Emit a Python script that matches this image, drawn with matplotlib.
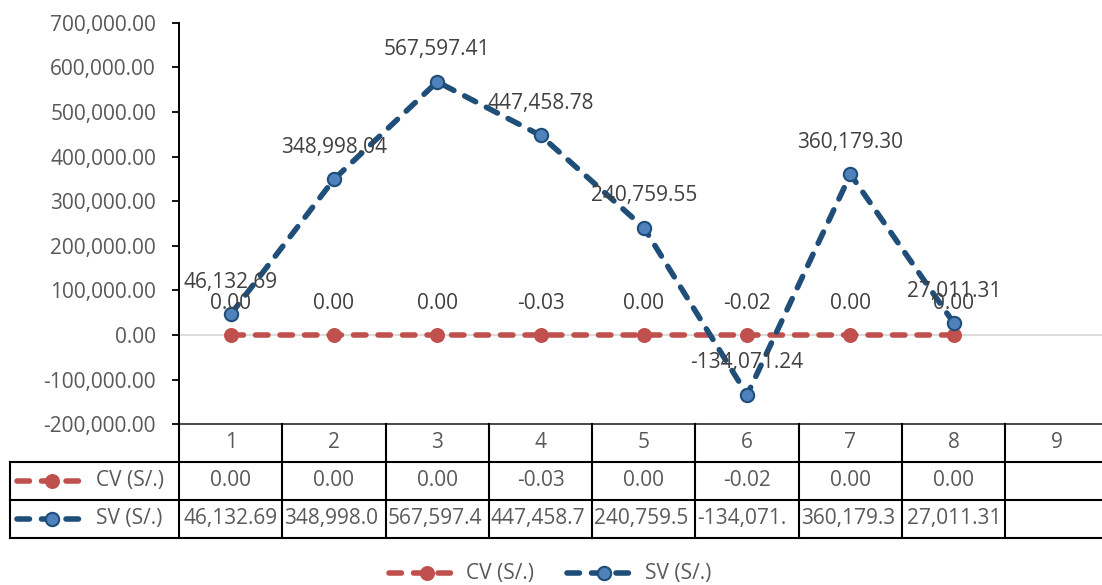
import matplotlib
matplotlib.use("Agg")
import matplotlib.pyplot as plt
from matplotlib.lines import Line2D
from matplotlib import transforms as mtransforms
from matplotlib.ticker import FuncFormatter, MultipleLocator

plt.rcParams["font.family"] = ["Open Sans", "DejaVu Sans"]

# ---- data -------------------------------------------------------------
periods = [1, 2, 3, 4, 5, 6, 7, 8, 9]
cv_values = [0.00, 0.00, 0.00, -0.03, 0.00, -0.02, 0.00, 0.00]
sv_values = [46132.69, 348998.04, 567597.41, 447458.78, 240759.55,
             -134071.24, 360179.30, 27011.31]
series_names = ["CV (S/.)", "SV (S/.)"]
y_min, y_max, y_step = -200000, 700000, 100000

# ---- style ------------------------------------------------------------
RED = "#C0504D"
BLUE = "#1F4E79"
BLUE_FACE = "#4F81BD"
TXT = "#595959"
LBL = "#404040"
FS = 15
LW = 4
DASH = (0, (2.24, 2.17))

W, H = 1102, 585
fig = plt.figure(figsize=(W / 100, H / 100), dpi=100)
fig.patch.set_facecolor("white")

def fx(p):
    return p / W

def fy(p):
    return 1 - p / H

# plot area (pixels): left 179, top 22.7, bottom 424.3, cell width 103.3
ax_left, ax_top, ax_bot, cell = 179.0, 22.7, 424.3, 103.3
ax = fig.add_axes([fx(ax_left), fy(ax_bot), fx(cell * len(periods)),
                   (ax_bot - ax_top) / H])
ax.set_xlim(0.5, len(periods) + 0.5)
ax.set_ylim(y_min, y_max)
ax.set_facecolor("none")

for s in ("top", "right", "bottom"):
    ax.spines[s].set_visible(False)
ax.spines["left"].set_color("black")
ax.spines["left"].set_linewidth(1.4)
ax.yaxis.set_major_locator(MultipleLocator(y_step))
ax.yaxis.set_major_formatter(FuncFormatter(lambda v, p: f"{v:,.2f}"))
ax.tick_params(axis="y", length=5, width=1.3, direction="out", pad=11.5,
               labelsize=FS, labelcolor=TXT, color="black")
ax.set_xticks([])

# zero line
ax.axhline(0, color="#D9D9D9", lw=1.3, zorder=1)

x = periods[:len(cv_values)]
ax.plot(x, cv_values, color=RED, lw=LW, ls=DASH, dash_capstyle="round",
        marker="o", ms=10.8, mfc=RED, mec=RED, mew=0, zorder=3, clip_on=False)
ax.plot(x, sv_values, color=BLUE, lw=LW, ls=DASH, dash_capstyle="round",
        marker="o", ms=9.6, mfc=BLUE_FACE, mec=BLUE, mew=1.5, zorder=4,
        clip_on=False)

for xi, v in zip(x, cv_values):
    ax.annotate(f"{v:,.2f}", (xi, v), xytext=(0, 23), textcoords="offset points",
                ha="center", va="center", fontsize=FS, color=LBL, zorder=6)
for xi, v in zip(x, sv_values):
    ax.annotate(f"{v:,.2f}", (xi, v), xytext=(0, 23), textcoords="offset points",
                ha="center", va="center", fontsize=FS, color=LBL, zorder=6)

# ---- data table -------------------------------------------------------
bt = mtransforms.blended_transform_factory(ax.transData, fig.transFigure)
row_edges = [ax_bot, 461.5, 499.5, 537.5]
row_mid = [443.0, 480.5, 518.5]
tab_left = 9.5

def hline(x0, x1, y, color="black", lw=1.5):
    fig.add_artist(Line2D([fx(x0), fx(x1)], [fy(y), fy(y)], color=color, lw=lw,
                          transform=fig.transFigure, solid_capstyle="projecting"))

hline(ax_left, W + 5, row_edges[0], color="#3a3a3a", lw=1.3)
for ye in row_edges[1:]:
    hline(tab_left, W + 5, ye)
for k in range(len(periods) + 1):
    fig.add_artist(Line2D([k + 0.5, k + 0.5], [fy(row_edges[0]), fy(row_edges[-1])],
                          color="black", lw=1.5, transform=bt))
fig.add_artist(Line2D([fx(tab_left), fx(tab_left)], [fy(row_edges[1]), fy(row_edges[-1])],
                      color="black", lw=1.5, transform=fig.transFigure))

for p in periods:
    fig.text(p, fy(row_mid[0]), str(p), transform=bt, ha="center", va="center",
             fontsize=FS, color=TXT)

renderer = fig.canvas.get_renderer()
max_w = cell - 4
for row, vals in ((1, cv_values), (2, sv_values)):
    for p, v in zip(periods, vals):
        s = f"{v:,.2f}"
        t = fig.text(p, fy(row_mid[row]), s, transform=bt, ha="center",
                     va="center", fontsize=FS, color=TXT)
        if t.get_window_extent(renderer).width > max_w:
            t.set_horizontalalignment("left")
            t.set_x(p - 0.5 + 2.0 / cell)
            while t.get_window_extent(renderer).width > max_w and len(s) > 1:
                s = s[:-1]
                t.set_text(s)


def key(x0, x1, xm, y, color, face, ms, mew):
    fig.add_artist(Line2D([fx(x0), fx(x1)], [fy(y), fy(y)], color=color, lw=LW,
                          ls=DASH, dash_capstyle="round", transform=fig.transFigure))
    fig.add_artist(Line2D([fx(xm)], [fy(y)], marker="o", ms=ms, mfc=face, mec=color,
                          mew=mew, ls="none", transform=fig.transFigure))

# row headers of the table
key(17, 83, 52, row_mid[1], RED, RED, 10.8, 0)
fig.text(fx(96), fy(row_mid[1]), series_names[0], ha="left", va="center",
         fontsize=FS, color=TXT)
key(17, 83, 52, row_mid[2], BLUE, BLUE_FACE, 9.6, 1.5)
fig.text(fx(96), fy(row_mid[2]), series_names[1], ha="left", va="center",
         fontsize=FS, color=TXT)

# legend below the table
leg_y = 573
key(389, 454, 427, leg_y, RED, RED, 10.8, 0)
fig.text(fx(466), fy(leg_y), series_names[0], ha="left", va="center",
         fontsize=FS, color=TXT)
key(567, 633, 604, leg_y, BLUE, BLUE_FACE, 9.6, 1.5)
fig.text(fx(645), fy(leg_y), series_names[1], ha="left", va="center",
         fontsize=FS, color=TXT)

fig.savefig("out.png", dpi=100)
